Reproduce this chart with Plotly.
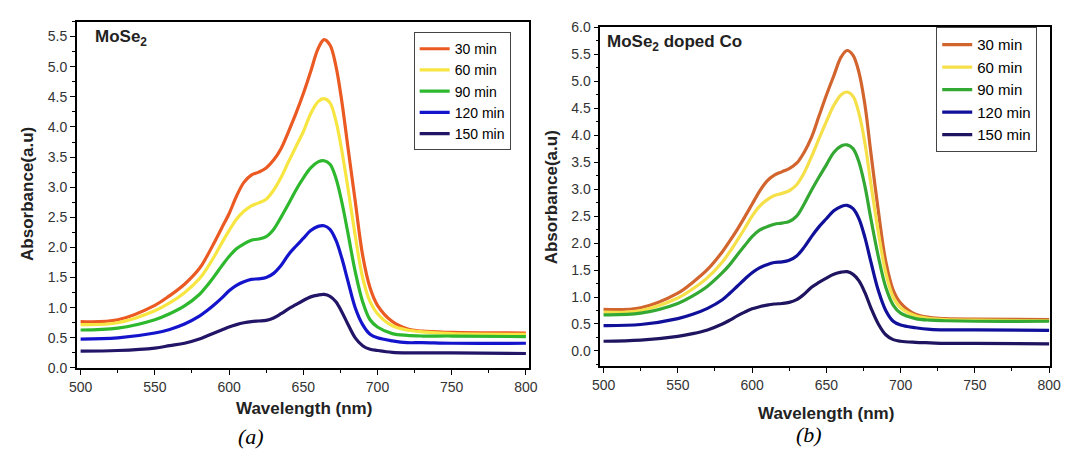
import plotly.graph_objects as go

wavelength = [500, 525, 550, 560, 570, 580, 585, 590, 595, 600, 605, 610, 615, 620, 625, 630, 635, 640,
              645, 650, 655, 660, 664, 668, 672, 676, 680, 685, 690, 695, 700, 710, 720, 730, 750, 800]

series_names = ["30 min", "60 min", "90 min", "120 min", "150 min"]

# Panel (a): MoSe2
a_30 = [0.77, 0.80, 1.04, 1.20, 1.39, 1.65, 1.85, 2.08, 2.32, 2.56, 2.85, 3.08, 3.20, 3.25, 3.32, 3.45, 3.64, 3.92,
        4.22, 4.55, 4.92, 5.30, 5.45, 5.36, 5.01, 4.42, 3.68, 2.77, 1.87, 1.33, 1.04, 0.77, 0.65, 0.61, 0.59, 0.58]
a_60 = [0.72, 0.75, 0.95, 1.08, 1.25, 1.48, 1.65, 1.85, 2.07, 2.28, 2.47, 2.60, 2.69, 2.74, 2.80, 2.95, 3.16, 3.42,
        3.67, 3.92, 4.22, 4.42, 4.47, 4.40, 4.10, 3.60, 3.00, 2.20, 1.50, 1.10, 0.90, 0.70, 0.63, 0.60, 0.57, 0.56]
a_90 = [0.63, 0.66, 0.80, 0.90, 1.03, 1.22, 1.36, 1.52, 1.69, 1.85, 1.98, 2.06, 2.12, 2.14, 2.18, 2.30, 2.50, 2.72,
        2.95, 3.15, 3.32, 3.42, 3.44, 3.38, 3.15, 2.75, 2.25, 1.60, 1.10, 0.80, 0.68, 0.57, 0.54, 0.53, 0.53, 0.52]
a_120 = [0.48, 0.50, 0.58, 0.64, 0.73, 0.86, 0.95, 1.05, 1.16, 1.28, 1.37, 1.43, 1.47, 1.48, 1.50, 1.57, 1.70, 1.88,
         2.02, 2.15, 2.28, 2.35, 2.36, 2.30, 2.12, 1.82, 1.45, 1.00, 0.72, 0.56, 0.50, 0.45, 0.42, 0.42, 0.41, 0.41]
a_150 = [0.28, 0.29, 0.33, 0.37, 0.41, 0.48, 0.53, 0.58, 0.63, 0.68, 0.72, 0.75, 0.77, 0.78, 0.79, 0.83, 0.90, 0.98,
         1.05, 1.12, 1.18, 1.21, 1.22, 1.19, 1.10, 0.93, 0.73, 0.50, 0.37, 0.31, 0.29, 0.26, 0.25, 0.25, 0.25, 0.24]

# Panel (b): MoSe2 doped Co
b_30 = [0.77, 0.80, 1.07, 1.27, 1.51, 1.84, 2.04, 2.25, 2.48, 2.72, 2.96, 3.15, 3.26, 3.32, 3.38, 3.48, 3.68, 3.96,
        4.35, 4.74, 5.10, 5.45, 5.57, 5.48, 5.16, 4.56, 3.67, 2.60, 1.66, 1.13, 0.89, 0.68, 0.62, 0.60, 0.59, 0.58]
b_60 = [0.72, 0.75, 0.98, 1.15, 1.36, 1.65, 1.84, 2.05, 2.27, 2.50, 2.68, 2.80, 2.88, 2.92, 2.97, 3.08, 3.30, 3.60,
        3.93, 4.25, 4.55, 4.75, 4.80, 4.72, 4.40, 3.85, 3.10, 2.20, 1.45, 1.00, 0.80, 0.65, 0.60, 0.58, 0.57, 0.56]
b_90 = [0.67, 0.70, 0.88, 1.02, 1.20, 1.45, 1.60, 1.78, 1.95, 2.12, 2.24, 2.30, 2.35, 2.37, 2.40, 2.50, 2.72, 2.98,
        3.22, 3.45, 3.68, 3.80, 3.82, 3.75, 3.50, 3.05, 2.45, 1.75, 1.18, 0.85, 0.70, 0.60, 0.57, 0.56, 0.55, 0.55]
b_120 = [0.47, 0.49, 0.60, 0.68, 0.79, 0.95, 1.07, 1.20, 1.33, 1.45, 1.54, 1.60, 1.64, 1.65, 1.68, 1.76, 1.92, 2.12,
         2.30, 2.45, 2.60, 2.68, 2.70, 2.64, 2.45, 2.10, 1.65, 1.12, 0.75, 0.55, 0.48, 0.43, 0.40, 0.39, 0.39, 0.38]
b_150 = [0.18, 0.20, 0.27, 0.32, 0.39, 0.50, 0.57, 0.65, 0.72, 0.78, 0.82, 0.85, 0.87, 0.88, 0.90, 0.95, 1.05, 1.18,
         1.27, 1.35, 1.42, 1.46, 1.47, 1.42, 1.30, 1.08, 0.80, 0.50, 0.30, 0.21, 0.18, 0.16, 0.15, 0.14, 0.14, 0.13]

colors_a = ["#EA5A22", "#F7E642", "#2EB82E", "#1414CC", "#221466"]
colors_b = ["#D2642E", "#F5E04A", "#33A833", "#10109A", "#1E1460"]

FONT = "Liberation Sans, Arial, sans-serif"

fig = go.Figure()
for name, ys, col in zip(series_names, [a_30, a_60, a_90, a_120, a_150], colors_a):
    fig.add_trace(go.Scatter(x=wavelength, y=ys, mode="lines", name=name,
                             line=dict(color=col, width=3.2, shape="spline", smoothing=1.0),
                             xaxis="x", yaxis="y", legend="legend"))
for name, ys, col in zip(series_names, [b_30, b_60, b_90, b_120, b_150], colors_b):
    fig.add_trace(go.Scatter(x=wavelength, y=ys, mode="lines", name=name,
                             line=dict(color=col, width=3.2, shape="spline", smoothing=1.0),
                             xaxis="x2", yaxis="y2", legend="legend2"))

W, H = 1070, 458
def px(x): return x / W
def py(y): return 1 - y / H

axis_common = dict(showline=True, linecolor="black", linewidth=1.5, mirror=True,
                   ticks="outside", ticklen=5, tickwidth=1.2, tickcolor="black",
                   showgrid=False, zeroline=False,
                   tickfont=dict(family=FONT, size=14, color="#333333"))

fig.update_layout(
    width=W, height=H, margin=dict(l=0, r=0, t=0, b=0),
    paper_bgcolor="white", plot_bgcolor="white",
    xaxis=dict(domain=[px(70), px(530)], range=[497.4, 801.8], dtick=50, tick0=500,
               minor=dict(dtick=25, ticks="outside", ticklen=3, tickcolor="black"),
               anchor="y", **axis_common),
    yaxis=dict(domain=[py(373), py(14)], range=[0, 5.75], dtick=0.5, tick0=0,
               tickformat=".1f",
               minor=dict(dtick=0.25, ticks="outside", ticklen=3, tickcolor="black"),
               anchor="x", **axis_common),
    xaxis2=dict(domain=[px(603), px(1061)], range=[497.8, 800.7], dtick=50, tick0=500,
                minor=dict(dtick=25, ticks="outside", ticklen=3, tickcolor="black"),
                anchor="y2", **axis_common),
    yaxis2=dict(domain=[py(371), py(20)], range=[-0.28, 6.0], dtick=0.5, tick0=0,
                tickformat=".1f",
                minor=dict(dtick=0.25, ticks="outside", ticklen=3, tickcolor="black"),
                anchor="x2", **axis_common),
    legend=dict(x=px(413), y=py(25), xanchor="left", yanchor="top",
                bordercolor="#444444", borderwidth=1, bgcolor="white",
                font=dict(family=FONT, size=14, color="black"), tracegroupgap=0,
                itemwidth=30),
    legend2=dict(x=px(945), y=py(20), xanchor="left", yanchor="top",
                 bordercolor="#444444", borderwidth=1, bgcolor="white",
                 font=dict(family=FONT, size=15, color="black"), tracegroupgap=0,
                 itemwidth=30),
    showlegend=True,
)

annots = [
    dict(text="<b>MoSe<sub>2</sub></b>", x=px(87), y=py(31), xanchor="left", yanchor="middle",
         font=dict(family=FONT, size=17, color="#222222")),
    dict(text="<b>MoSe<sub>2</sub> doped Co</b>", x=px(608), y=py(36), xanchor="left", yanchor="middle",
         font=dict(family=FONT, size=17, color="#222222")),
    dict(text="<b>Absorbance(a.u)</b>", x=px(20), y=py(193), textangle=-90,
         xanchor="center", yanchor="middle", font=dict(family=FONT, size=17, color="#222222")),
    dict(text="<b>Absorbance(a.u)</b>", x=px(553), y=py(196), textangle=-90,
         xanchor="center", yanchor="middle", font=dict(family=FONT, size=17, color="#222222")),
    dict(text="<b>Wavelength (nm)</b>", x=px(301), y=py(415),
         xanchor="center", yanchor="middle", font=dict(family=FONT, size=17, color="#222222")),
    dict(text="<b>Wavelength (nm)</b>", x=px(833), y=py(420),
         xanchor="center", yanchor="middle", font=dict(family=FONT, size=17, color="#222222")),
    dict(text="<i>(a)</i>", x=px(247), y=py(444),
         xanchor="center", yanchor="middle", font=dict(family="Liberation Serif, Times New Roman, serif", size=22, color="black")),
    dict(text="<i>(b)</i>", x=px(815), y=py(442),
         xanchor="center", yanchor="middle", font=dict(family="Liberation Serif, Times New Roman, serif", size=22, color="black")),
]
for a in annots:
    a.update(xref="paper", yref="paper", showarrow=False)
fig.update_layout(annotations=annots)

fig.write_html("out.html")
